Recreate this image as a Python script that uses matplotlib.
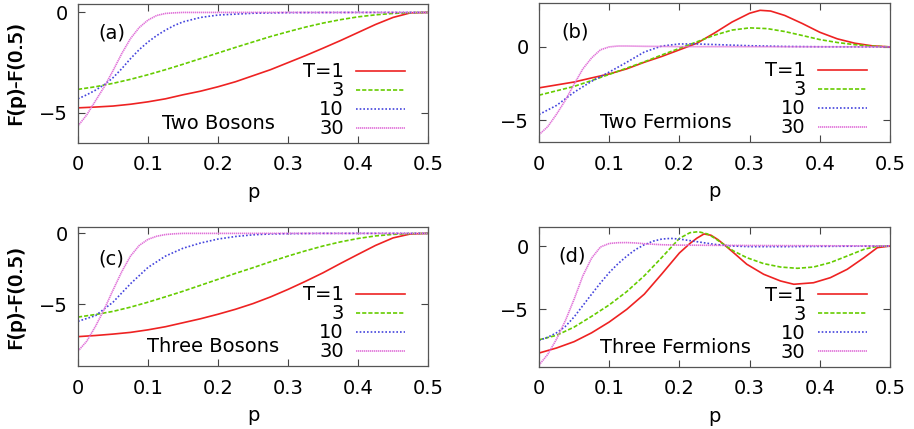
import numpy as np
import matplotlib
matplotlib.use("Agg")
import matplotlib.pyplot as plt

plt.rcParams['font.family'] = ['DejaVu Sans']
plt.rcParams['font.size'] = 14

temps = ["T=1", "3", "10", "30"]
colors = ["#ee2222", "#66cc00", "#4444dd", "#e070d8"]
styles = ["-", (0, (2.5, 1.2)), (0, (1, 1.2)), (0, (0.8, 0.4))]

# panel (a) Two Bosons
a_p = [[0, 0.025, 0.05, 0.075, 0.1, 0.125, 0.15, 0.175, 0.2, 0.225, 0.25, 0.275, 0.3, 0.325, 0.35, 0.375, 0.4, 0.425, 0.45, 0.475, 0.5],
       [0, 0.025, 0.05, 0.075, 0.1, 0.125, 0.15, 0.175, 0.2, 0.225, 0.25, 0.275, 0.3, 0.325, 0.35, 0.375, 0.4, 0.425, 0.45, 0.475, 0.5],
       [0, 0.0125, 0.025, 0.0375, 0.05, 0.0625, 0.075, 0.0875, 0.1, 0.1125, 0.125, 0.1375, 0.15, 0.175, 0.2, 0.25, 0.3, 0.4, 0.5],
       [0, 0.0125, 0.025, 0.0375, 0.05, 0.0625, 0.075, 0.0875, 0.1, 0.1125, 0.125, 0.1375, 0.15, 0.5]]
a_f = [[-4.75, -4.71, -4.66, -4.57, -4.45, -4.3, -4.1, -3.92, -3.7, -3.45, -3.15, -2.85, -2.5, -2.15, -1.78, -1.4, -1.0, -0.6, -0.25, -0.02, 0.0],
       [-3.83, -3.7, -3.53, -3.33, -3.1, -2.85, -2.58, -2.3, -2.02, -1.74, -1.47, -1.2, -0.96, -0.73, -0.53, -0.36, -0.22, -0.12, -0.05, -0.01, 0.0],
       [-4.3, -4.1, -3.87, -3.6, -3.25, -2.8, -2.3, -1.85, -1.47, -1.15, -0.88, -0.65, -0.47, -0.25, -0.13, -0.04, -0.01, 0.0, 0.0],
       [-5.65, -5.1, -4.4, -3.7, -2.9, -2.05, -1.3, -0.75, -0.38, -0.15, -0.05, -0.02, 0.0, 0.0]]

# panel (b) Two Fermions
b_p = [[0, 0.025, 0.05, 0.075, 0.1, 0.125, 0.15, 0.175, 0.2, 0.225, 0.25, 0.275, 0.3, 0.315, 0.33, 0.35, 0.375, 0.4, 0.425, 0.45, 0.475, 0.5],
       [0, 0.025, 0.05, 0.075, 0.1, 0.125, 0.15, 0.175, 0.2, 0.225, 0.25, 0.275, 0.3, 0.325, 0.35, 0.375, 0.4, 0.425, 0.45, 0.475, 0.5],
       [0, 0.025, 0.05, 0.075, 0.1, 0.125, 0.15, 0.175, 0.2, 0.225, 0.25, 0.3, 0.35, 0.4, 0.5],
       [0, 0.0125, 0.025, 0.0375, 0.05, 0.0625, 0.075, 0.0875, 0.1, 0.1125, 0.125, 0.15, 0.2, 0.5]]
b_f = [[-2.8, -2.6, -2.4, -2.12, -1.85, -1.5, -1.05, -0.65, -0.2, 0.25, 0.95, 1.7, 2.3, 2.5, 2.45, 2.15, 1.6, 1.0, 0.55, 0.25, 0.07, 0.0],
       [-3.3, -3.0, -2.7, -2.3, -1.88, -1.45, -1.02, -0.55, -0.1, 0.35, 0.8, 1.15, 1.3, 1.25, 1.05, 0.78, 0.5, 0.3, 0.15, 0.05, 0.0],
       [-4.62, -4.0, -3.1, -2.35, -1.72, -1.05, -0.35, 0.06, 0.2, 0.2, 0.16, 0.08, 0.03, 0.01, 0.0],
       [-6.0, -5.45, -4.6, -3.65, -2.55, -1.5, -0.75, -0.2, 0.0, 0.06, 0.06, 0.04, 0.02, 0.0]]

# panel (c) Three Bosons
c_p = [[0, 0.025, 0.05, 0.075, 0.1, 0.125, 0.15, 0.175, 0.2, 0.225, 0.25, 0.275, 0.3, 0.325, 0.35, 0.375, 0.4, 0.425, 0.45, 0.475, 0.5],
       [0, 0.025, 0.05, 0.075, 0.1, 0.125, 0.15, 0.175, 0.2, 0.225, 0.25, 0.275, 0.3, 0.325, 0.35, 0.375, 0.4, 0.425, 0.45, 0.475, 0.5],
       [0, 0.025, 0.05, 0.075, 0.1, 0.125, 0.15, 0.175, 0.2, 0.225, 0.25, 0.275, 0.3, 0.35, 0.5],
       [0, 0.0125, 0.025, 0.0375, 0.05, 0.0625, 0.075, 0.0875, 0.1, 0.1125, 0.125, 0.1375, 0.15, 0.5]]
c_f = [[-7.28, -7.2, -7.1, -6.98, -6.8, -6.58, -6.3, -6.02, -5.7, -5.35, -4.95, -4.48, -3.95, -3.38, -2.78, -2.12, -1.48, -0.85, -0.32, -0.04, 0.0],
       [-5.9, -5.72, -5.5, -5.2, -4.85, -4.47, -4.08, -3.66, -3.24, -2.82, -2.42, -2.0, -1.6, -1.23, -0.89, -0.6, -0.36, -0.18, -0.07, -0.01, 0.0],
       [-6.2, -5.8, -4.85, -3.55, -2.4, -1.6, -1.05, -0.68, -0.4, -0.22, -0.1, -0.04, -0.02, 0.0, 0.0],
       [-8.3, -7.6, -6.55, -5.35, -4.0, -2.7, -1.6, -0.85, -0.42, -0.2, -0.08, -0.03, 0.0, 0.0]]

# panel (d) Three Fermions
d_p = [[0, 0.025, 0.05, 0.075, 0.1, 0.125, 0.15, 0.175, 0.2, 0.215, 0.225, 0.235, 0.245, 0.255, 0.265, 0.277, 0.296, 0.32, 0.344, 0.363, 0.391, 0.415, 0.439, 0.463, 0.482, 0.5],
       [0, 0.025, 0.05, 0.075, 0.1, 0.125, 0.15, 0.175, 0.2, 0.215, 0.227, 0.24, 0.25, 0.263, 0.277, 0.296, 0.32, 0.344, 0.368, 0.391, 0.415, 0.439, 0.463, 0.482, 0.5],
       [0, 0.0125, 0.025, 0.0375, 0.05, 0.0625, 0.075, 0.0875, 0.1, 0.1125, 0.125, 0.1375, 0.15, 0.1625, 0.175, 0.1875, 0.2, 0.225, 0.25, 0.275, 0.3, 0.35, 0.4, 0.5],
       [0, 0.0125, 0.025, 0.0375, 0.05, 0.0625, 0.075, 0.0875, 0.1, 0.1125, 0.125, 0.1375, 0.15, 0.175, 0.2, 0.3, 0.5]]
d_f = [[-8.45, -8.05, -7.55, -6.85, -6.0, -5.0, -3.8, -2.2, -0.55, 0.2, 0.62, 0.95, 0.85, 0.5, 0.05, -0.52, -1.44, -2.23, -2.76, -3.02, -2.9, -2.5, -1.84, -0.92, -0.13, 0.0],
       [-7.4, -7.05, -6.4, -5.55, -4.65, -3.6, -2.35, -0.9, 0.6, 1.05, 1.13, 0.95, 0.63, 0.13, -0.39, -0.92, -1.39, -1.66, -1.76, -1.66, -1.31, -0.79, -0.26, -0.02, 0.0],
       [-7.45, -7.2, -6.85, -6.35, -5.6, -4.7, -3.8, -2.92, -2.1, -1.4, -0.8, -0.28, 0.1, 0.38, 0.55, 0.6, 0.55, 0.34, 0.13, 0.0, -0.05, -0.05, -0.03, 0.0],
       [-9.4, -8.55, -7.35, -5.9, -4.2, -2.35, -0.95, -0.08, 0.2, 0.26, 0.27, 0.24, 0.18, 0.1, 0.07, 0.04, 0.0]]

panels = [
    ("(a)", "Two Bosons", a_p, a_f, (-6.5, 0.42), [78, 4, 428, 143], (0.097, 0.79), 0.40),
    ("(b)", "Two Fermions", b_p, b_f, (-6.5, 3.0), [539, 3, 890, 142], (0.103, 0.79), 0.36),
    ("(c)", "Three Bosons", c_p, c_f, (-9.35, 0.45), [78, 227, 428, 366], (0.094, 0.77), 0.386),
    ("(d)", "Three Fermions", d_p, d_f, (-9.55, 1.5), [539, 227, 890, 367], (0.094, 0.79), 0.388),
]

W, H = 914, 429
fig = plt.figure(figsize=(W / 100, H / 100), dpi=100)

for tag, name, ps, fs, ylim, box, tagpos, namex in panels:
    x0, y0, x1, y1 = box
    ax = fig.add_axes([x0 / W, 1 - y1 / H, (x1 - x0) / W, (y1 - y0) / H])
    for i in range(4):
        ax.plot(ps[i], fs[i], color=colors[i], ls=styles[i], lw=1.2, label=temps[i])
    ax.set_xlim(0, 0.5)
    ax.set_ylim(*ylim)
    ax.set_xticks([0, 0.1, 0.2, 0.3, 0.4, 0.5])
    ax.set_xticklabels(["0", "0.1", "0.2", "0.3", "0.4", "0.5"])
    ax.set_yticks([0, -5])
    ax.tick_params(direction="in", top=True, right=True, length=5, width=0.8,
                   color="#444444", labelsize=14)
    ax.tick_params(axis="x", pad=9)
    ax.tick_params(axis="y", pad=7)
    for s in ax.spines.values():
        s.set_color("#555555")
        s.set_linewidth(0.9)
    ax.set_xlabel("p", fontsize=14, labelpad=6)
    ax.set_ylabel("F(p)-F(0.5)", fontsize=14)
    ax.yaxis.set_label_coords(-(x0 - 25) / (x1 - x0), 0.5)
    ax.text(tagpos[0], tagpos[1], tag, transform=ax.transAxes, ha="center", va="center", fontsize=14)
    ax.text(namex, 0.14, name, transform=ax.transAxes, ha="center", va="center", fontsize=14)
    ax.legend(loc="upper right", bbox_to_anchor=(0.934, 0.58), frameon=False,
              markerfirst=False, handlelength=2.5, handletextpad=0.65,
              labelspacing=0.0, borderpad=0, borderaxespad=0, fontsize=14)

fig.savefig("out.png", dpi=100)
